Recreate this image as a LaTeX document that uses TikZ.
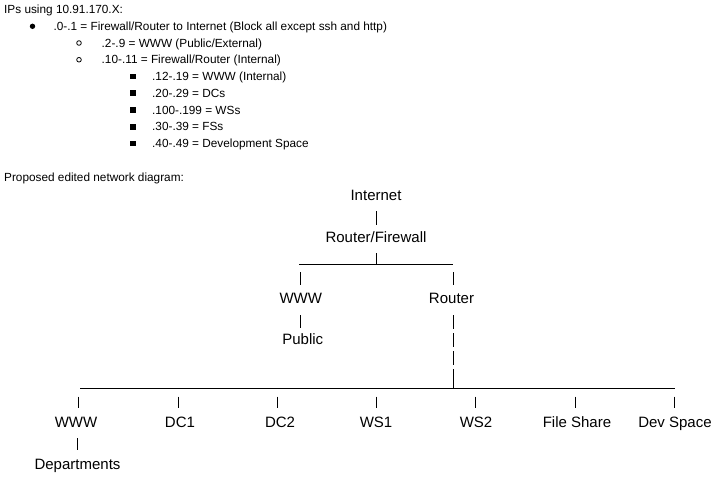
\documentclass[tikz,border=0pt]{standalone}
\usepackage{fontspec}
\setmainfont{Liberation Sans}
\begin{document}
\begin{tikzpicture}[x=1pt,y=-1pt,
  lbl/.style={anchor=base,inner sep=0pt,text height=11pt,text depth=3pt,font=\fontsize{15}{18}\selectfont},
  note/.style={anchor=base west,inner sep=0pt,font=\fontsize{11.8}{13}\selectfont},
  wire/.style={line width=0.85pt},
  pipe/.style={wire,shorten <=8pt,shorten >=6pt},
  dropwire/.style={wire,shorten <=8pt,shorten >=6.5pt}
]
\useasboundingbox (0,0) rectangle (717,480);

% ---- notes ----
\node[note] (n0) at (4,13.5) {IPs using 10.91.170.X:};
\fill (32.5,26.3) circle (2.7pt);
\node[note] (n1) at (53.3,30.25) {.0-.1 = Firewall/Router to Internet (Block all except ssh and http)};
\draw[line width=0.8pt] (79,43) circle (2.3pt);
\node[note] (n2) at (101.5,47) {.2-.9 = WWW (Public/External)};
\draw[line width=0.8pt] (79,59.75) circle (2.3pt);
\node[note] (n3) at (101.5,63.75) {.10-.11 = Firewall/Router (Internal)};
\foreach \b in {80.5,97.25,114,130.75,147.5}
  \fill (130.2,\b-6.8) rectangle (135.8,\b-1.2);
\node[note] (n4) at (152,80.5) {.12-.19 = WWW (Internal)};
\node[note] (n5) at (152,97.25) {.20-.29 = DCs};
\node[note] (n6) at (152,114) {.100-.199 = WSs};
\node[note] (n7) at (152,130.75) {.30-.39 = FSs};
\node[note] (n8) at (152,147.5) {.40-.49 = Development Space};
\node[note] (title) at (4,181.5) {Proposed edited network diagram:};

% ---- diagram nodes ----
\node[lbl] (inet) at (376,200) {Internet};
\node[lbl] (rf) at (376,242) {Router/Firewall};
\node[lbl] (www1) at (300.8,303) {WWW};
\node[lbl] (router) at (451.5,303) {Router};
\node[lbl] (public) at (302.8,344) {Public};
\node[lbl] (www2) at (76,427) {WWW};
\node[lbl] (dc1) at (180,427) {DC1};
\node[lbl] (dc2) at (280,427) {DC2};
\node[lbl] (ws1) at (376,427) {WS1};
\node[lbl] (ws2) at (476,427) {WS2};
\node[lbl] (fs) at (577,427) {File Share};
\node[lbl] (dev) at (675,427) {Dev Space};
\node[lbl] (dept) at (77.5,469) {Departments};

% ---- upper bar ----
\coordinate (barL) at (299,264);
\coordinate (barM) at (376,264);
\coordinate (barR) at (453,264);
\coordinate (bx1) at (300.5,264);
\coordinate (bx2) at (453,264);
\draw[wire] (barL) -- (barR);
\draw[wire,shorten <=8pt] (barM |- rf.south) -- (barM);
\draw[pipe] (inet) -- (rf);
\draw[dropwire] (bx1) -- (bx1 |- www1.north);
\draw[dropwire] (bx2) -- (bx2 |- router.north);
\draw[wire,shorten <=9pt,shorten >=5pt] (bx1 |- www1.south) -- (bx1 |- public.north);

% ---- bus ----
\coordinate (busL) at (80,388.5);
\coordinate (busR) at (675,388.5);
\coordinate (rb) at (453,388.5);
\draw[wire] (busL) -- (busR);
\draw[wire,shorten >=8pt,dash pattern=on 20pt off 4pt on 14pt off 4pt on 14pt off 4pt on 14pt off 60pt]
  (rb) -- (rb |- router.south);
\foreach \x/\n in {78/www2,178/dc1,277/dc2,376.5/ws1,475.7/ws2,575/fs,674.3/dev}{
  \coordinate (t\n) at (\x,388.5);
  \draw[wire,shorten <=8pt,shorten >=8pt] (t\n) -- (t\n |- \n.north);
}
\coordinate (dx) at (77.5,427);
\draw[wire,shorten <=8pt,shorten >=8pt] (dx |- www2.south) -- (dx |- dept.north);
\end{tikzpicture}
\end{document}
